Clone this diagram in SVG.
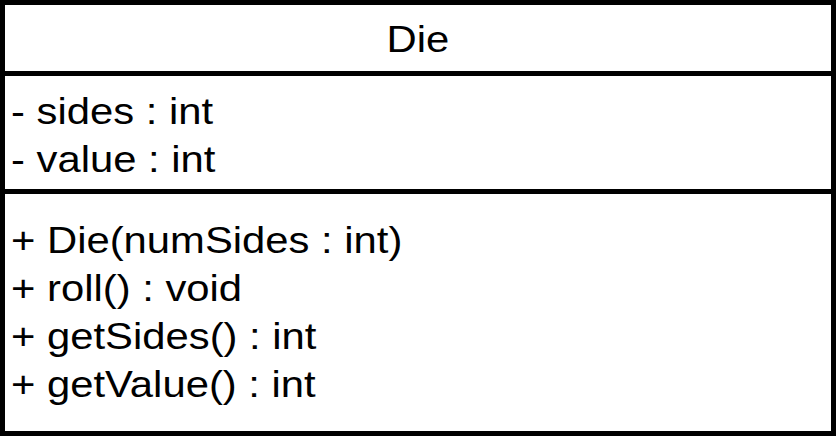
<svg xmlns="http://www.w3.org/2000/svg" width="836" height="436" viewBox="0 0 836 436">
<style>
text { font-family: "Liberation Sans", Arial, sans-serif; font-size: 37px; fill: #000; }
.box { fill: #fff; stroke: #000; stroke-width: 5; }
.div { stroke: #000; stroke-width: 5; }
</style>
<rect width="836" height="436" fill="#fff"/>
<g id="class-Die">
<rect class="box" x="2.5" y="2.5" width="831" height="431"/>
<line class="div" x1="0" y1="73.5" x2="836" y2="73.5"/>
<line class="div" x1="0" y1="191.5" x2="836" y2="191.5"/>
<g transform="scale(1.13 1)">
<text x="369.9" y="52" text-anchor="middle">Die</text>
<text x="9.7" y="124">- sides : int</text>
<text x="9.7" y="172">- value : int</text>
<text x="9.7" y="253">+ Die(numSides : int)</text>
<text x="9.7" y="301">+ roll() : void</text>
<text x="9.7" y="349">+ getSides() : int</text>
<text x="9.7" y="397">+ getValue() : int</text>
</g>
</g>
<g id="connectors"/>
</svg>
